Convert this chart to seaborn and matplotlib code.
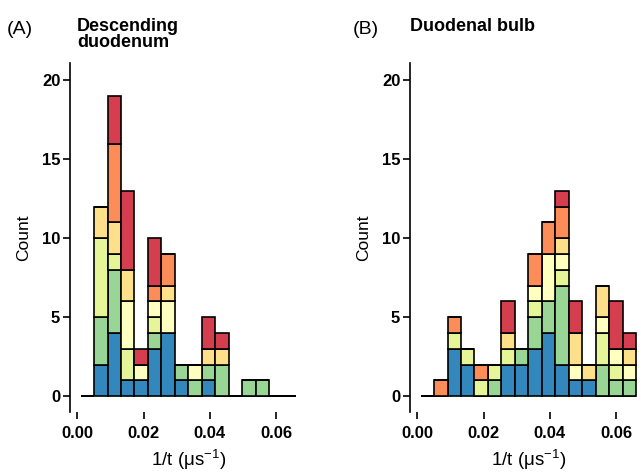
import numpy as np
import pandas as pd
import matplotlib
matplotlib.use("Agg")
import matplotlib.pyplot as plt
import seaborn as sns

# bins shared by both panels (16 bins over the 1/t range)
bin_lo, bin_hi, n_bins = 0.001, 0.066, 16

# stacking levels, top of the stack first (seaborn stacks the last level at the bottom)
groups = ["G7", "G6", "G5", "G4", "G3", "G2", "G1"]
colors = ["#d53e4f", "#fc8d59", "#fee08b", "#ffffbf", "#e6f598", "#99d594", "#3288bd"]

# (A) Descending duodenum - counts per bin for each group
desc_G1 = [0, 2, 4, 1, 1, 3, 4, 1, 0, 1, 0, 0, 0, 0, 0, 0]
desc_G2 = [0, 3, 4, 0, 0, 1, 0, 1, 1, 1, 2, 0, 1, 1, 0, 0]
desc_G3 = [0, 5, 1, 2, 0, 1, 0, 0, 0, 0, 0, 0, 0, 0, 0, 0]
desc_G4 = [0, 0, 0, 3, 1, 1, 2, 0, 1, 0, 0, 0, 0, 0, 0, 0]
desc_G5 = [0, 2, 2, 2, 0, 0, 1, 0, 0, 1, 1, 0, 0, 0, 0, 0]
desc_G6 = [0, 0, 5, 0, 0, 1, 2, 0, 0, 0, 0, 0, 0, 0, 0, 0]
desc_G7 = [0, 0, 3, 5, 1, 3, 0, 0, 0, 2, 1, 0, 0, 0, 0, 0]

# (B) Duodenal bulb
bulb_G1 = [0, 0, 3, 2, 0, 0, 2, 2, 3, 4, 2, 1, 1, 0, 0, 0]
bulb_G2 = [0, 0, 0, 0, 0, 1, 0, 1, 2, 2, 5, 0, 0, 2, 1, 1]
bulb_G3 = [0, 0, 1, 1, 1, 1, 1, 0, 1, 0, 1, 0, 0, 2, 1, 0]
bulb_G4 = [0, 0, 0, 0, 0, 0, 0, 0, 1, 3, 1, 1, 0, 1, 1, 1]
bulb_G5 = [0, 0, 0, 0, 0, 0, 1, 0, 0, 0, 1, 2, 1, 2, 0, 1]
bulb_G6 = [0, 1, 1, 0, 1, 0, 0, 0, 2, 2, 2, 0, 0, 0, 0, 0]
bulb_G7 = [0, 0, 0, 0, 0, 0, 2, 0, 0, 0, 1, 2, 0, 0, 3, 1]

x_ticks = [0.00, 0.02, 0.04, 0.06]
x_ticklabels = ["0.00", "0.02", "0.04", "0.06"]
y_ticks = [0, 5, 10, 15, 20]

edges = np.linspace(bin_lo, bin_hi, n_bins + 1)
centers = (edges[:-1] + edges[1:]) / 2


def to_long(counts):
    rows = []
    for g, c in counts.items():
        rows.append(pd.DataFrame({"rate": centers, "n": c, "group": g}))
    return pd.concat(rows, ignore_index=True)


df_desc = to_long({"G1": desc_G1, "G2": desc_G2, "G3": desc_G3, "G4": desc_G4,
                   "G5": desc_G5, "G6": desc_G6, "G7": desc_G7})
df_bulb = to_long({"G1": bulb_G1, "G2": bulb_G2, "G3": bulb_G3, "G4": bulb_G4,
                   "G5": bulb_G5, "G6": bulb_G6, "G7": bulb_G7})

sns.set_style("white")
plt.rcParams["font.family"] = ["Liberation Sans", "DejaVu Sans"]
plt.rcParams["mathtext.fontset"] = "custom"
plt.rcParams["mathtext.rm"] = "Liberation Sans"
plt.rcParams["mathtext.default"] = "regular"
plt.rcParams["text.color"] = "black"
plt.rcParams["axes.labelcolor"] = "black"

W, H = 641, 475
fig = plt.figure(figsize=(W / 100, H / 100), dpi=100)
ax_w = 237 / W
ax_h = 349 / H
ax_b = (H - 412) / H
axA = fig.add_axes([70 / W, ax_b, ax_w, ax_h])
axB = fig.add_axes([410 / W, ax_b, ax_w, ax_h])

for ax, df in [(axA, df_desc), (axB, df_bulb)]:
    sns.histplot(data=df, x="rate", weights="n", hue="group", hue_order=groups,
                 palette=colors, multiple="stack", bins=list(edges), alpha=1,
                 edgecolor="black", linewidth=1.2, legend=False, ax=ax)
    ax.set_xlim(-0.0022, 0.0693)
    ax.set_ylim(-1, 21.1)
    ax.set_xticks(x_ticks)
    ax.set_xticklabels(x_ticklabels)
    ax.set_yticks(y_ticks)
    for s in ["top", "right", "bottom"]:
        ax.spines[s].set_visible(False)
    ax.spines["left"].set_color("black")
    ax.spines["left"].set_linewidth(1.2)
    ax.tick_params(axis="both", length=5, width=1.2, color="black",
                   labelsize=12, labelcolor="black", bottom=True, left=True)
    ax.tick_params(axis="x", pad=5)
    ax.tick_params(axis="y", pad=2)
    for lab in ax.get_xticklabels() + ax.get_yticklabels():
        lab.set_fontweight("bold")
    ax.set_xlabel("1/t (μs$^{-1}$)", fontsize=13.5, labelpad=5)
    ax.set_ylabel("Count", fontsize=12.5, labelpad=8)

fig.text(7 / W, 1 - 29 / H, "(A)", fontsize=14, va="center", ha="left")
fig.text(77 / W, 1 - 18 / H, "Descending\nduodenum", fontsize=13,
         fontweight="bold", va="top", ha="left", linespacing=0.95)
fig.text(353 / W, 1 - 29 / H, "(B)", fontsize=14, va="center", ha="left")
fig.text(410 / W, 1 - 18 / H, "Duodenal bulb", fontsize=13,
         fontweight="bold", va="top", ha="left")

fig.savefig("out.png", dpi=100)
